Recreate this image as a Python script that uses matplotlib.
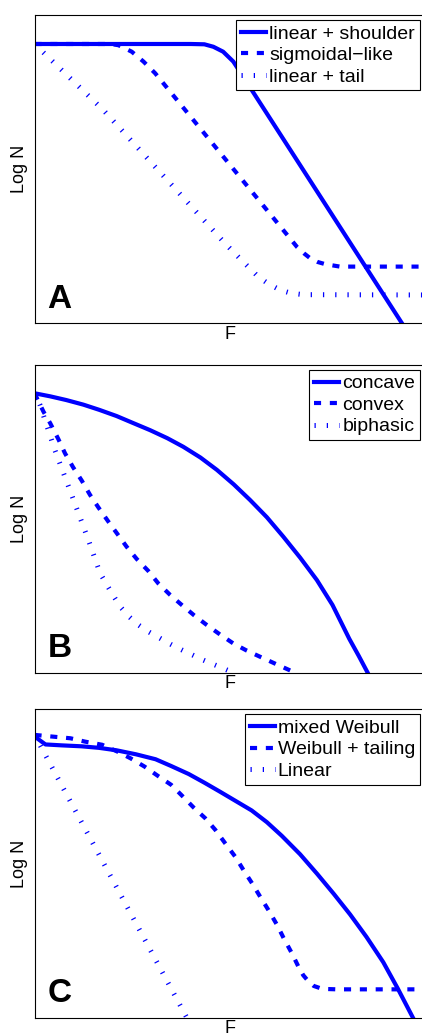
import matplotlib
matplotlib.use("Agg")
import matplotlib.pyplot as plt

plt.rcParams['font.family'] = ['Liberation Sans', 'DejaVu Sans']

# values (axes run 0..10 in both directions, no ticks)
# panel A
a_sh_x = [0, 4.0, 4.35, 4.58, 4.83, 5.09, 5.26, 5.52, 9.41]
a_sh_y = [9.06, 9.06, 9.05, 8.97, 8.81, 8.49, 8.16, 7.65, 0]
a_sig_x = [0, 1.95, 2.15, 2.49, 2.79, 3.09, 6.72, 6.9, 7.06, 7.25, 7.44, 7.82, 10]
a_sig_y = [9.06, 9.06, 9.02, 8.81, 8.49, 8.11, 2.48, 2.27, 2.11, 1.99, 1.92, 1.84, 1.84]
a_tail_x = [0, 1.76, 4.88, 5.3, 5.73, 5.99, 6.29, 6.56, 6.88, 10]
a_tail_y = [9.06, 6.92, 2.59, 2.05, 1.51, 1.28, 1.08, 0.98, 0.93, 0.92]

# panel B
b_cc_x = [0, 0.4, 0.81, 1.25, 1.66, 2.1, 2.51, 2.96, 3.4, 3.81, 4.25, 4.67, 5.1,
          5.52, 5.95, 6.37, 6.8, 7.23, 7.63, 8.06, 8.3, 8.53]
b_cc_y = [9.08, 8.98, 8.86, 8.71, 8.54, 8.34, 8.12, 7.88, 7.62, 7.34, 6.99, 6.59, 6.12,
          5.61, 5.05, 4.42, 3.74, 3.01, 2.2, 1.1, 0.55, 0]
b_cv_x = [0, 0.23, 0.40, 0.61, 0.78, 0.99, 1.21, 1.42, 1.63, 1.89, 2.12, 2.36,
          2.62, 2.91, 3.17, 3.47, 3.77, 4.09, 4.41, 4.75, 5.09, 5.43, 5.77, 6.2, 6.67]
b_cv_y = [9.08, 8.48, 8.11, 7.59, 7.13, 6.67, 6.24, 5.78, 5.38, 4.91, 4.51, 4.09,
          3.69, 3.31, 2.90, 2.53, 2.20, 1.86, 1.55, 1.24, 0.95, 0.72, 0.52, 0.27, 0]
b_bi_x = [0, 0.14, 0.52, 0.95, 1.38, 1.68, 1.85, 1.98, 2.19, 2.42, 2.66, 2.93, 3.21,
          3.49, 3.77, 4.32, 5.09]
b_bi_y = [9.08, 8.70, 7.24, 5.78, 4.31, 3.23, 2.86, 2.58, 2.15, 1.82, 1.55, 1.32, 1.12,
          0.92, 0.74, 0.41, 0]

# panel C
c_mw_x = [0, 0.28, 0.7, 1.2, 1.65, 2.1, 2.6, 3.1, 3.5, 3.95, 4.35, 4.76, 5.16, 5.56,
          5.95, 6.33, 6.8, 7.24, 7.66, 8.08, 8.5, 8.93, 9.3, 9.69]
c_mw_y = [9.12, 8.86, 8.83, 8.80, 8.75, 8.67, 8.54, 8.38, 8.16, 7.90, 7.62, 7.32, 7.02,
          6.72, 6.34, 5.90, 5.30, 4.66, 4.02, 3.35, 2.62, 1.80, 0.95, 0]
c_wt_x = [0, 0.5, 0.92, 1.3, 1.73, 2.12, 2.46, 2.82, 3.16, 3.50, 3.80, 4.07, 4.37,
          4.63, 4.88, 5.14, 5.35, 5.57, 5.78, 5.99, 6.21, 6.38, 6.59, 6.76, 6.88, 7.02,
          7.15, 7.31, 7.5, 7.74, 10]
c_wt_y = [9.17, 9.11, 9.06, 8.95, 8.85, 8.63, 8.41, 8.14, 7.84, 7.55, 7.17, 6.82, 6.47,
          6.09, 5.66, 5.22, 4.79, 4.36, 3.92, 3.49, 3.01, 2.58, 2.09, 1.65, 1.38, 1.17,
          1.03, 0.96, 0.93, 0.92, 0.92]
c_lin_x = [0, 3.90]
c_lin_y = [9.17, 0]

panels = [
    ("A", [(a_sh_x, a_sh_y, "linear + shoulder"),
           (a_sig_x, a_sig_y, "sigmoidal\u2212like"),
           (a_tail_x, a_tail_y, "linear + tail")]),
    ("B", [(b_cc_x, b_cc_y, "concave"),
           (b_cv_x, b_cv_y, "convex"),
           (b_bi_x, b_bi_y, "biphasic")]),
    ("C", [(c_mw_x, c_mw_y, "mixed Weibull"),
           (c_wt_x, c_wt_y, "Weibull + tailing"),
           (c_lin_x, c_lin_y, "Linear")]),
]

blue = "#0000FF"
styles = [
    dict(linestyle="-", linewidth=3.0, solid_joinstyle="round"),
    dict(linestyle=(0, (1.7, 2.1)), linewidth=3.0, dash_capstyle="butt"),
    dict(linestyle=(0, (0.25, 2.2)), linewidth=3.6, dash_capstyle="butt"),
]

fig = plt.figure(figsize=(4.22, 10.35), dpi=100)
left, width = 0.0818, 0.9254
boxes = [(0.6876, 0.2979), (0.3501, 0.2973), (0.0167, 0.2980)]

for (letter, curves), (bottom, height) in zip(panels, boxes):
    ax = fig.add_axes([left, bottom, width, height])
    for (x, y, lab), st in zip(curves, styles):
        ax.plot(x, y, color=blue, label=lab, **st)
    ax.set_xlim(0, 10)
    ax.set_ylim(0, 10)
    ax.set_xticks([])
    ax.set_yticks([])
    for sp in ax.spines.values():
        sp.set_linewidth(0.8)
        sp.set_color("black")
    ax.set_xlabel("F", fontsize=13, labelpad=2)
    ax.set_ylabel("Log N", fontsize=13, labelpad=5)
    ax.text(0.033, 0.05, letter, transform=ax.transAxes, fontsize=24,
            fontweight="bold", va="baseline", ha="left")
    leg = ax.legend(loc="upper right", fontsize=14, frameon=True, fancybox=False,
                    edgecolor="black", framealpha=1, borderaxespad=0.26,
                    borderpad=0.25, labelspacing=0.2, handlelength=1.3,
                    handletextpad=0.15)
    leg.get_frame().set_linewidth(0.8)

fig.savefig("out.png", dpi=100)
